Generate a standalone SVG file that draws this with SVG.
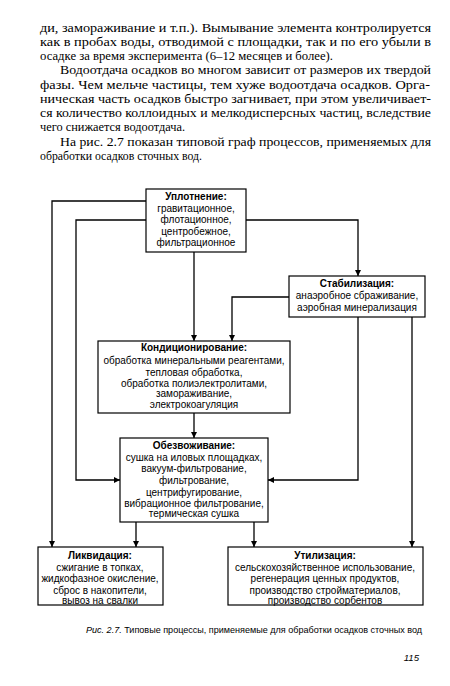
<svg xmlns="http://www.w3.org/2000/svg" width="450" height="686" viewBox="0 0 450 686">
<style>
.body{font-family:"Liberation Serif","Times New Roman",serif;font-size:13.5px;fill:#000}
.n{font-family:"Liberation Sans",Arial,sans-serif;font-size:10px;fill:#000;text-anchor:middle}
.t{font-weight:bold}
.box{fill:#fff;stroke:#000;stroke-width:1.2}
.c{fill:none;stroke:#000;stroke-width:1.3}
.cap{font-family:"Liberation Sans",Arial,sans-serif;font-size:9.6px;fill:#000}
</style>
<defs>
<marker id="ah" viewBox="0 0 10 10" refX="10" refY="5" markerWidth="6" markerHeight="6" markerUnits="userSpaceOnUse" orient="auto">
<path d="M0,0 L10,5 L0,10 z" fill="#000"/>
</marker>
</defs>
<rect width="450" height="686" fill="#fff"/>
<g id="text">
<text class="body" x="40" y="32" textLength="391" lengthAdjust="spacingAndGlyphs">ди, замораживание и т.п.). Вымывание элемента контролируется</text>
<text class="body" x="40" y="46" textLength="391" lengthAdjust="spacingAndGlyphs">как в пробах воды, отводимой с площадки, так и по его убыли в</text>
<text class="body" x="40" y="60" textLength="293" lengthAdjust="spacingAndGlyphs">осадке за время эксперимента (6–12 месяцев и более).</text>
<text class="body" x="60" y="74" textLength="371" lengthAdjust="spacingAndGlyphs">Водоотдача осадков во многом зависит от размеров их твердой</text>
<text class="body" x="40" y="89" textLength="390" lengthAdjust="spacingAndGlyphs">фазы. Чем мельче частицы, тем хуже водоотдача осадков. Орга-</text>
<text class="body" x="40" y="103" textLength="391" lengthAdjust="spacingAndGlyphs">ническая часть осадков быстро загнивает, при этом увеличивает-</text>
<text class="body" x="40" y="117" textLength="391" lengthAdjust="spacingAndGlyphs">ся количество коллоидных и мелкодисперсных частиц, вследствие</text>
<text class="body" x="40" y="131" textLength="145" lengthAdjust="spacingAndGlyphs">чего снижается водоотдача.</text>
<text class="body" x="60" y="146" textLength="371" lengthAdjust="spacingAndGlyphs">На рис. 2.7 показан типовой граф процессов, применяемых для</text>
<text class="body" x="40" y="160" textLength="162" lengthAdjust="spacingAndGlyphs">обработки осадков сточных вод.</text>
</g>
<g id="connectors">
<polyline class="c" points="146,201 52,201 52,547" marker-end="url(#ah)"/>
<polyline class="c" points="146,220 76,220 76,480 120,480" marker-end="url(#ah)"/>
<polyline class="c" points="246,220 358,220 358,276" marker-end="url(#ah)"/>
<line class="c" x1="194" y1="252" x2="194" y2="341" marker-end="url(#ah)"/>
<polyline class="c" points="289,297 232,297 232,341" marker-end="url(#ah)"/>
<polyline class="c" points="358,317 358,480 268,480" marker-end="url(#ah)"/>
<line class="c" x1="412" y1="317" x2="412" y2="547" marker-end="url(#ah)"/>
<line class="c" x1="194" y1="413" x2="194" y2="438" marker-end="url(#ah)"/>
<line class="c" x1="136" y1="522" x2="136" y2="547" marker-end="url(#ah)"/>
<line class="c" x1="254" y1="522" x2="254" y2="547" marker-end="url(#ah)"/>
</g>
<g id="uplotnenie">
<rect class="box" x="146" y="189" width="100" height="63"/>
<text class="n t" x="196" y="200">Уплотнение:</text>
<text class="n" x="196" y="212">гравитационное,</text>
<text class="n" x="196" y="223">флотационное,</text>
<text class="n" x="196" y="235">центробежное,</text>
<text class="n" x="196" y="246">фильтрационное</text>
</g>
<g id="stabilizaciya">
<rect class="box" x="289" y="276" width="136" height="41"/>
<text class="n t" x="357" y="287">Стабилизация:</text>
<text class="n" x="357" y="299">анаэробное сбраживание,</text>
<text class="n" x="357" y="311">аэробная минерализация</text>
</g>
<g id="kondicionirovanie">
<rect class="box" x="98" y="341" width="192" height="72"/>
<text class="n t" x="194" y="351">Кондиционирование:</text>
<text class="n" x="194" y="364">обработка минеральными реагентами,</text>
<text class="n" x="194" y="376">тепловая обработка,</text>
<text class="n" x="194" y="387">обработка полиэлектролитами,</text>
<text class="n" x="194" y="397">замораживание,</text>
<text class="n" x="194" y="408">электрокоагуляция</text>
</g>
<g id="obezvozhivanie">
<rect class="box" x="120" y="438" width="148" height="84"/>
<text class="n t" x="194" y="449">Обезвоживание:</text>
<text class="n" x="194" y="461">сушка на иловых площадках,</text>
<text class="n" x="194" y="472">вакуум-фильтрование,</text>
<text class="n" x="194" y="484">фильтрование,</text>
<text class="n" x="194" y="496">центрифугирование,</text>
<text class="n" x="194" y="507">вибрационное фильтрование,</text>
<text class="n" x="194" y="517">термическая сушка</text>
</g>
<g id="likvidaciya">
<rect class="box" x="38" y="547" width="125" height="58"/>
<text class="n t" x="100" y="559">Ликвидация:</text>
<text class="n" x="100" y="571">сжигание в топках,</text>
<text class="n" x="100" y="582">жидкофазное окисление,</text>
<text class="n" x="100" y="594">сброс в накопители,</text>
<text class="n" x="100" y="604">вывоз на свалки</text>
</g>
<g id="utilizaciya">
<rect class="box" x="228" y="547" width="195" height="58"/>
<text class="n t" x="325" y="559">Утилизация:</text>
<text class="n" x="325" y="571">сельскохозяйственное использование,</text>
<text class="n" x="325" y="582">регенерация ценных продуктов,</text>
<text class="n" x="325" y="594">производство стройматериалов,</text>
<text class="n" x="325" y="604">производство сорбентов</text>
</g>
<g id="caption">
<text class="cap" x="86" y="633" textLength="336" lengthAdjust="spacingAndGlyphs"><tspan font-style="italic">Рис. 2.7.</tspan> Типовые процессы, применяемые для обработки осадков сточных вод</text>
<text class="cap" x="419" y="661" font-size="10.5" font-style="italic" text-anchor="end">115</text>
</g>
</svg>
